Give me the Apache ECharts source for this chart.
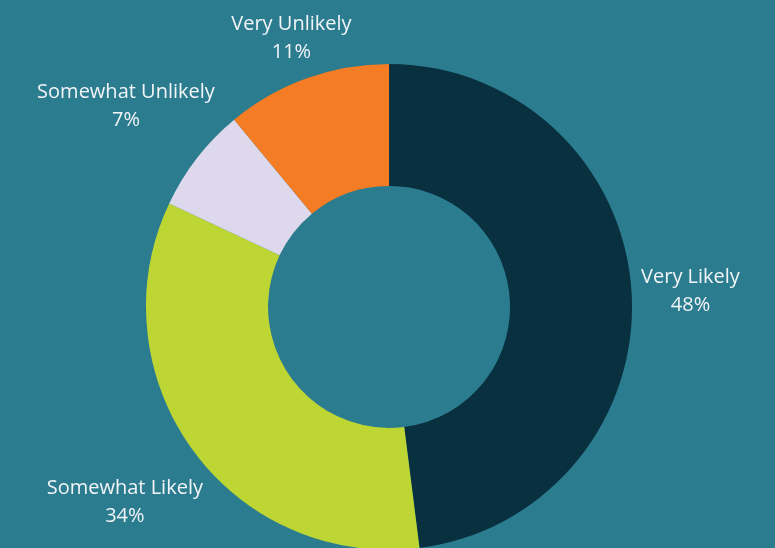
<!DOCTYPE html>
<html>
<head>
<meta charset="utf-8">
<style>
  html, body { margin: 0; padding: 0; background: #2b7c8f; }
  #chart { width: 775px; height: 548px; }
</style>
<script src="https://cdn.jsdelivr.net/npm/echarts@6/dist/echarts.min.js"></script>
</head>
<body>
<div id="chart"></div>
<script>
// answers, drawn clockwise from 12 o'clock
const categories = ['Very Likely', 'Somewhat Likely', 'Somewhat Unlikely', 'Very Unlikely']
const shares = [48, 34, 7, 11]
const colors = ['#08303f', '#bed634', '#ddd8eb', '#f47c25']

const W = 775, H = 548
const cx = W * 0.502, cy = H * 0.56
const rIn = 121, rOut = 243
const gap = 9

const total = shares.reduce((a, b) => a + b, 0)

// push the label box out along the slice's mid-angle until its nearest point clears the ring
function placeLabel(params) {
  const i = params.dataIndex
  let before = 0
  for (let k = 0; k < i; k++) before += shares[k]
  const mid = (before + shares[i] / 2) / total * Math.PI * 2
  const dx = Math.sin(mid), dy = -Math.cos(mid)
  // use the ink box, a bit tighter than the line boxes
  const a = params.labelRect.width / 2, b = params.labelRect.height / 2 - 6
  const nearest = t => {
    const px = t * dx, py = t * dy
    const qx = Math.max(Math.abs(px) - a, 0), qy = Math.max(Math.abs(py) - b, 0)
    return Math.sqrt(qx * qx + qy * qy)
  }
  let lo = 0, hi = 1000
  for (let n = 0; n < 50; n++) {
    const m = (lo + hi) / 2
    if (nearest(m) < rOut + gap) lo = m; else hi = m
  }
  return {
    x: cx + hi * dx,
    y: cy + hi * dy + 3, // glyphs sit a little low in the original font
    align: 'center',
    verticalAlign: 'middle'
  }
}

const chart = echarts.init(document.getElementById('chart'))
chart.setOption({
  backgroundColor: '#2b7c8f',
  animation: false,
  series: [{
    type: 'pie',
    center: [cx, cy],
    radius: [rIn, rOut],
    startAngle: 90,
    clockwise: true,
    avoidLabelOverlap: false,
    itemStyle: { borderWidth: 0 },
    label: {
      show: true,
      position: 'outside',
      color: '#f2f5f8',
      fontFamily: 'Open Sans',
      fontSize: 20,
      lineHeight: 28,
      align: 'center',
      formatter: p => p.name + '\n' + p.value + '%'
    },
    labelLine: { show: false },
    labelLayout: placeLabel,
    emphasis: { disabled: true },
    data: categories.map((c, i) => ({
      name: c,
      value: shares[i],
      itemStyle: { color: colors[i] }
    }))
  }]
})
</script>
</body>
</html>
